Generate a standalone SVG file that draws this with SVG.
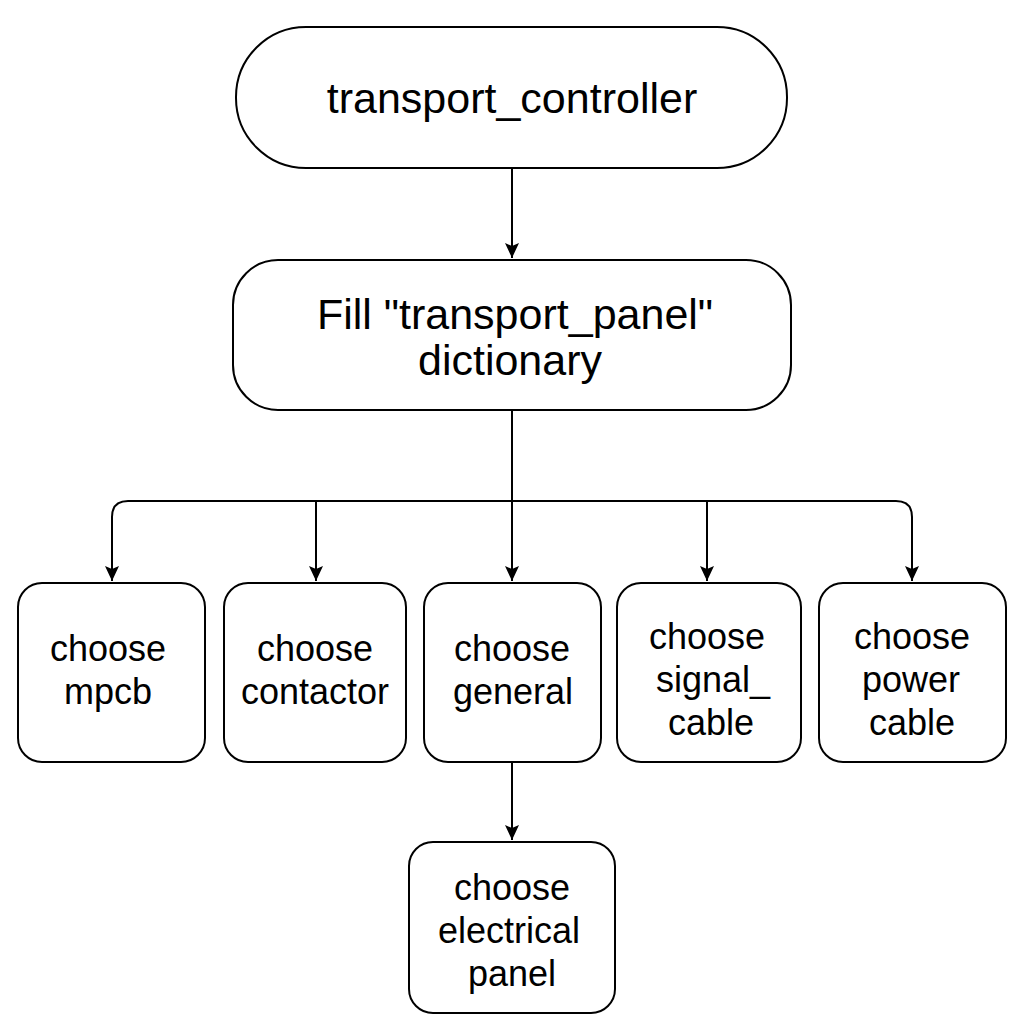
<svg xmlns="http://www.w3.org/2000/svg" width="1024" height="1024" viewBox="0 0 1024 1024">
<style>
.box{fill:#fff;stroke:#000;stroke-width:2}
.t{font-family:"Liberation Sans",Arial,sans-serif;fill:#000;text-anchor:middle}
.big{font-size:43px}
.sm{font-size:36px}
.c{fill:none;stroke:#000;stroke-width:2}
</style>
<defs>
<marker id="ah" markerWidth="16" markerHeight="16" refX="15" refY="7" orient="auto" markerUnits="userSpaceOnUse">
<path d="M0,0 L15,7 L0,14 L3,7 Z" fill="#000"/>
</marker>
</defs>
<rect width="1024" height="1024" fill="#fff"/>
<g id="connectors">
<path class="c" d="M512,169 V258" marker-end="url(#ah)"/>
<path class="c" d="M512,411 V581" marker-end="url(#ah)"/>
<path class="c" d="M512,501 H128 Q112,501 112,517 V581" marker-end="url(#ah)"/>
<path class="c" d="M316,501 V581" marker-end="url(#ah)"/>
<path class="c" d="M512,501 H896 Q912,501 912,517 V581" marker-end="url(#ah)"/>
<path class="c" d="M707,501 V581" marker-end="url(#ah)"/>
<path class="c" d="M512,763 V840" marker-end="url(#ah)"/>
</g>
<g id="n1">
<rect class="box" x="236" y="27" width="551" height="141" rx="70"/>
<text class="t big" x="512" y="113">transport_controller</text>
</g>
<g id="n2">
<rect class="box" x="233" y="260" width="558" height="150" rx="45"/>
<text class="t big" x="515" y="329">Fill "transport_panel"</text>
<text class="t big" x="510" y="375">dictionary</text>
</g>
<g id="n3">
<rect class="box" x="18" y="583" width="187" height="179" rx="24"/>
<text class="t sm" x="108" y="661">choose</text>
<text class="t sm" x="108" y="704">mpcb</text>
</g>
<g id="n4">
<rect class="box" x="224" y="583" width="182" height="179" rx="24"/>
<text class="t sm" x="315" y="661">choose</text>
<text class="t sm" x="315" y="704">contactor</text>
</g>
<g id="n5">
<rect class="box" x="424" y="583" width="177" height="179" rx="24"/>
<text class="t sm" x="512" y="661">choose</text>
<text class="t sm" x="513" y="704">general</text>
</g>
<g id="n6">
<rect class="box" x="617" y="583" width="184" height="179" rx="24"/>
<text class="t sm" x="707" y="649">choose</text>
<text class="t sm" x="713" y="692">signal_</text>
<text class="t sm" x="711" y="735">cable</text>
</g>
<g id="n7">
<rect class="box" x="819" y="583" width="187" height="179" rx="24"/>
<text class="t sm" x="912" y="649">choose</text>
<text class="t sm" x="911" y="692">power</text>
<text class="t sm" x="912" y="735">cable</text>
</g>
<g id="n8">
<rect class="box" x="409" y="842" width="206" height="171" rx="24"/>
<text class="t sm" x="512" y="900">choose</text>
<text class="t sm" x="509" y="943">electrical</text>
<text class="t sm" x="512" y="986">panel</text>
</g>
</svg>
